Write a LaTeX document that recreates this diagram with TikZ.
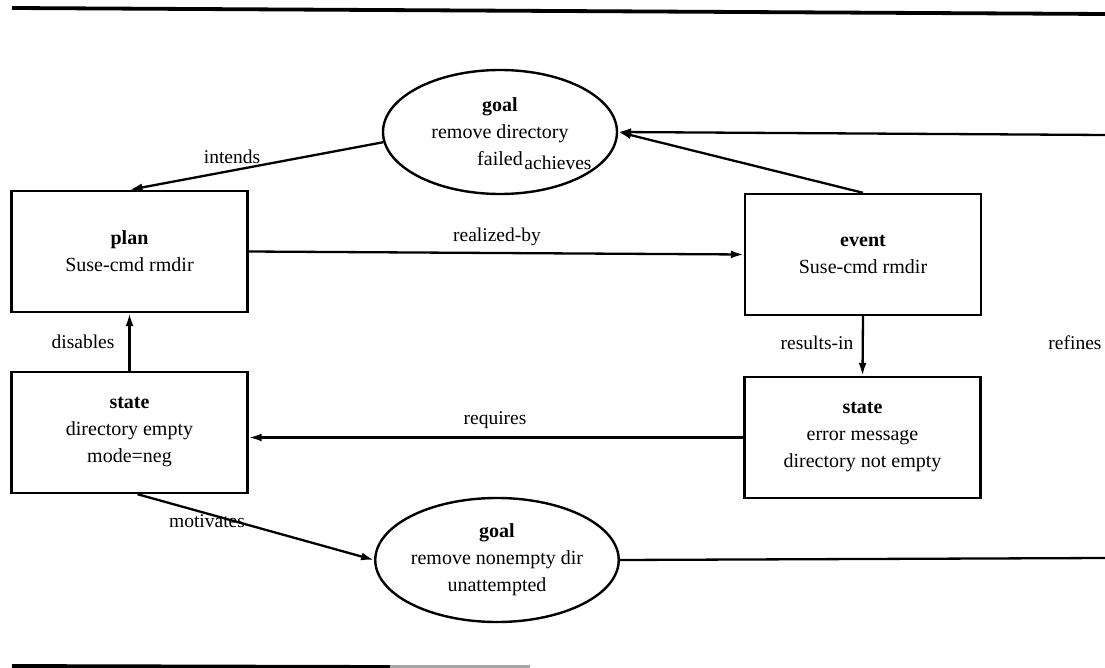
\documentclass[tikz,border=0pt]{standalone}
\usepackage{fontspec}
\setmainfont{Liberation Serif}
\usetikzlibrary{shapes.geometric,arrows.meta,calc}
\begin{document}
\begin{tikzpicture}[x=1pt,y=-1pt,
  every node/.style={font=\fontsize{20}{27}\selectfont, align=center},
  box/.style={draw, line width=2.4pt, minimum width=236pt, minimum height=121pt, inner sep=0pt},
  goalnode/.style={draw, ellipse, line width=2.4pt, minimum width=234pt, minimum height=124pt, inner sep=0pt},
  link/.style={line width=2.3pt, -{Latex[length=13pt,width=8pt]}},
  plainlink/.style={line width=2.3pt},
  rel/.style={font=\fontsize{19.5}{23}\selectfont, inner sep=1pt},
  rulestroke/.style={line width=3.8pt}]
\useasboundingbox (0,0) rectangle (1105,668);

% page rules above and below the figure
\coordinate (r1) at (12,8);
\coordinate (r2) at (1105,14);
\draw[rulestroke] (r1) -- (r2);
\coordinate (b1) at (12,666);
\coordinate (b2) at (390,667);
\coordinate (b3) at (530,667);
\draw[rulestroke] (b1) -- (b2);
\draw[rulestroke, black!35] (b2) -- (b3);

% goals
\node[goalnode] (goalT) at (500,132) {\textbf{goal}\\remove directory\\failed};
\node[goalnode] (goalB) at (497,560) {\textbf{goal}\\remove nonempty dir\\unattempted};

% plan, event and states
\node[box] (plan)   at (129.5,251.5) {\textbf{plan}\\Suse-cmd rmdir};
\node[box] (event)  at (863,254.5)   {\textbf{event}\\Suse-cmd rmdir};
\node[box] (stateL) at (129.5,432.5) {\textbf{state}\\directory empty\\mode=neg};
\node[box] (stateR) at (862.5,437.5) {\textbf{state}\\error message\\directory not empty};

% off-page ends of the refines link
\coordinate (refTop) at (1105,135);
\coordinate (refBot) at (1105,558);

% links
\draw[link] (goalT.185) -- (plan.north);
\draw[link] (event.north) -- (goalT.east);
\draw[link] (refTop) -- (goalT.east);
\draw[link] (plan.east) -- (event.west);
\draw[link] (event.south) -- (stateR.north);
\draw[link] (stateL.north) -- (plan.south);
\draw[link] (stateR.west) -- (stateR.west -| stateL.east);
\draw[link] ($(stateL.south)+(8,0)$) -- (goalB.west);
\draw[plainlink] (goalB.east) -- (refBot);

% link labels
\node[rel] (lIntends)  at (232,157) {intends};
\node[rel] (lAchieves) at (558,163) {achieves};
\node[rel] (lRealized) at (497,237) {realized-by};
\node[rel] (lResults)  at (817,343) {results-in};
\node[rel] (lRefines)  at (1075,343) {refines};
\node[rel] (lDisables) at (83,342) {disables};
\node[rel] (lRequires) at (495,420) {requires};
\node[rel] (lMotivates) at (207,521) {motivates};
\end{tikzpicture}
\end{document}
